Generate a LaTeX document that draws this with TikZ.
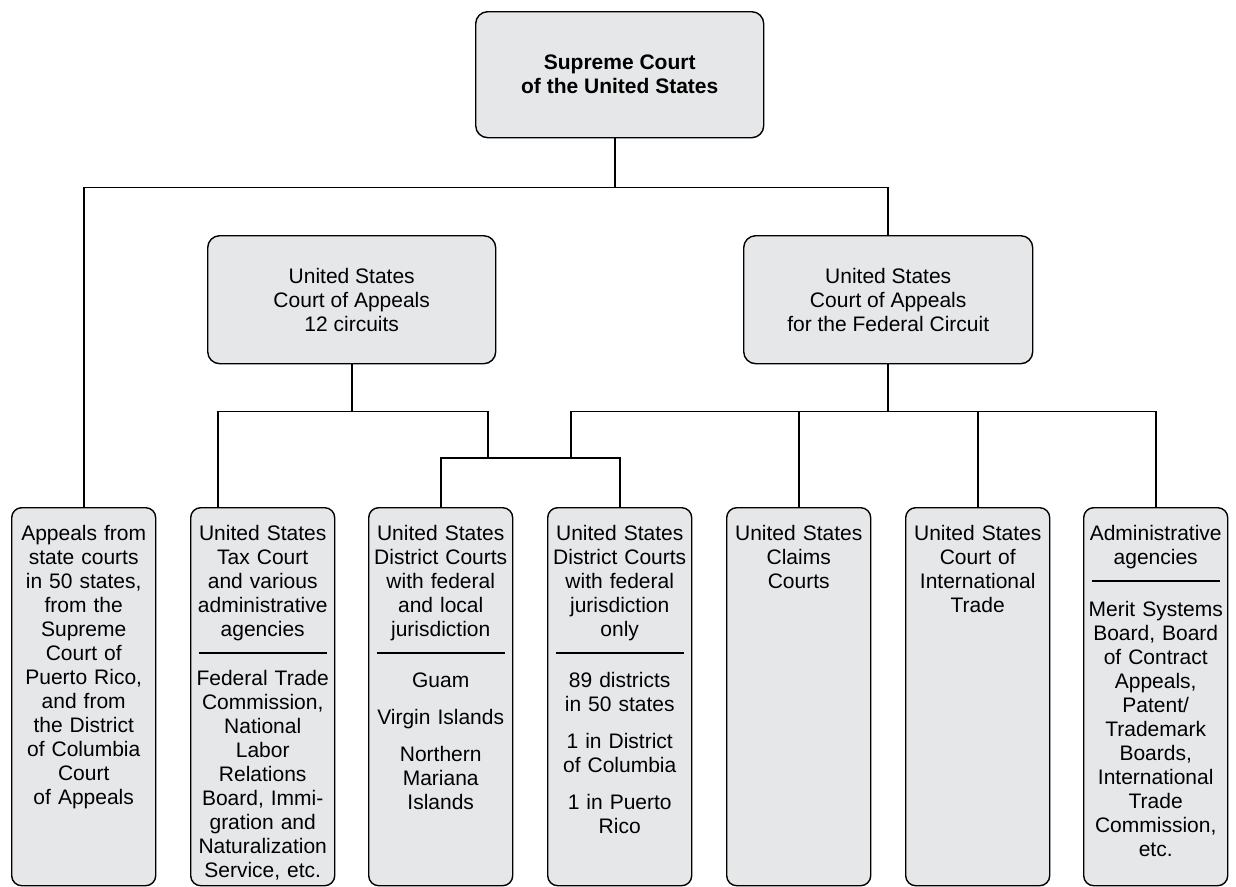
\documentclass[tikz,border=0pt]{standalone}
\usepackage{fontspec}
\setmainfont{Liberation Sans}
\usetikzlibrary{calc}
\definecolor{boxgrey}{HTML}{E6E7E8}
\begin{document}
\begin{tikzpicture}[x=1pt,y=-1pt,
  court/.style={draw=black, line width=1.4pt, fill=boxgrey, rounded corners=12pt,
    inner sep=0pt, align=center, anchor=north west, font=\fontsize{21}{24}\selectfont},
  lowbox/.style={draw=black, line width=1.4pt, fill=boxgrey, rounded corners=10pt,
    minimum width=144pt, minimum height=378pt, anchor=north west, inner sep=0pt},
  boxtext/.style={anchor=north, inner sep=0pt, text width=142pt, align=center,
    font=\fontsize{21}{24}\selectfont},
  link/.style={line width=1.6pt, line join=miter},
  sepline/.style={line width=1.3pt}]
\useasboundingbox (0,0) rectangle (1236,886);

% top and middle boxes
\node[court, minimum width=288pt, minimum height=126pt,
  font=\bfseries\fontsize{21}{24}\selectfont] (sc) at (475,11) {Supreme Court\\of the United States};
\node[court, minimum width=288pt, minimum height=128pt] (ca) at (207,235)
  {United States\\Court of Appeals\\12 circuits};
\node[court, minimum width=289pt, minimum height=128pt] (fc) at (743,235)
  {United States\\Court of Appeals\\for the Federal Circuit};

% bottom boxes
\node[lowbox] (b1) at (11,507) {};
\node[lowbox] (b2) at (190,507) {};
\node[lowbox] (b3) at (368,507) {};
\node[lowbox] (b4) at (547,507) {};
\node[lowbox] (b5) at (726,507) {};
\node[lowbox] (b6) at (905,507) {};
\node[lowbox] (b7) at (1083,507) {};

% texts in bottom boxes
\node[boxtext] (t1) at ($(b1.north)+(0,16.2)$) {\strut Appeals from\\state courts\\in 50 states,\\from the\\Supreme\\Court of\\Puerto Rico,\\and from\\the District\\of Columbia\\Court\\of Appeals};
\node[boxtext] (t2) at ($(b2.north)+(0,16.2)$) {\strut United States\\Tax Court\\and various\\administrative\\agencies};
\node[boxtext] (u2) at ($(b2.north)+(0,161.2)$) {\strut Federal Trade\\Commission,\\National\\Labor\\Relations\\Board, Immi-\\gration and\\Naturalization\\Service, etc.};
\node[boxtext] (t3) at ($(b3.north)+(0,16.2)$) {\strut United States\\District Courts\\with federal\\and local\\jurisdiction};
\node[boxtext] (u3) at ($(b3.north)+(0,163.2)$) {\strut Guam\\[13pt]Virgin Islands\\[13pt]Northern\\Mariana\\Islands};
\node[boxtext] (t4) at ($(b4.north)+(0,16.2)$) {\strut United States\\District Courts\\with federal\\jurisdiction\\only};
\node[boxtext] (u4) at ($(b4.north)+(0,163.2)$) {\strut 89 districts\\in 50 states\\[13pt]1 in District\\of Columbia\\[13pt]1 in Puerto\\Rico};
\node[boxtext] (t5) at ($(b5.north)+(0,16.2)$) {\strut United States\\Claims\\Courts};
\node[boxtext] (t6) at ($(b6.north)+(0,16.2)$) {\strut United States\\Court of\\International\\Trade};
\node[boxtext] (t7) at ($(b7.north)+(0,16.2)$) {\strut Administrative\\agencies};
\node[boxtext] (u7) at ($(b7.north)+(0,92.2)$) {\strut Merit Systems\\Board, Board\\of Contract\\Appeals,\\Patent/\\Trademark\\Boards,\\International\\Trade\\Commission,\\etc.};

% separators
\draw[sepline] ($(b2.north west)+(8.5,146)$) -- ($(b2.north east)+(-8.5,146)$);
\draw[sepline] ($(b3.north west)+(8.5,146)$) -- ($(b3.north east)+(-8.5,146)$);
\draw[sepline] ($(b4.north west)+(8.5,146)$) -- ($(b4.north east)+(-8.5,146)$);
\draw[sepline] ($(b7.north west)+(8.5,74)$) -- ($(b7.north east)+(-8.5,74)$);

% connectors
\draw[link] ([xshift=-5pt]sc.south) -- ++(0,49) coordinate (j1);
\draw[link] (b1.north) |- (j1) -| (fc.north);
\draw[link] (ca.south) -- ++(0,47) coordinate (j2);
\coordinate (dj) at (488,458);
\coordinate (dk) at (571,458);
\draw[link] ([xshift=-44.5pt]b2.north) |- (j2) -| (dj);
\draw[link] (b3.north) |- (dj) -| (b4.north);
\draw[link] (fc.south) -- ++(0,47) coordinate (j4);
\draw[link] (dk) |- (j4) -| (b7.north);
\draw[link] (b5.north) -- (b5.north |- j4);
\draw[link] (b6.north) -- (b6.north |- j4);
\end{tikzpicture}
\end{document}
